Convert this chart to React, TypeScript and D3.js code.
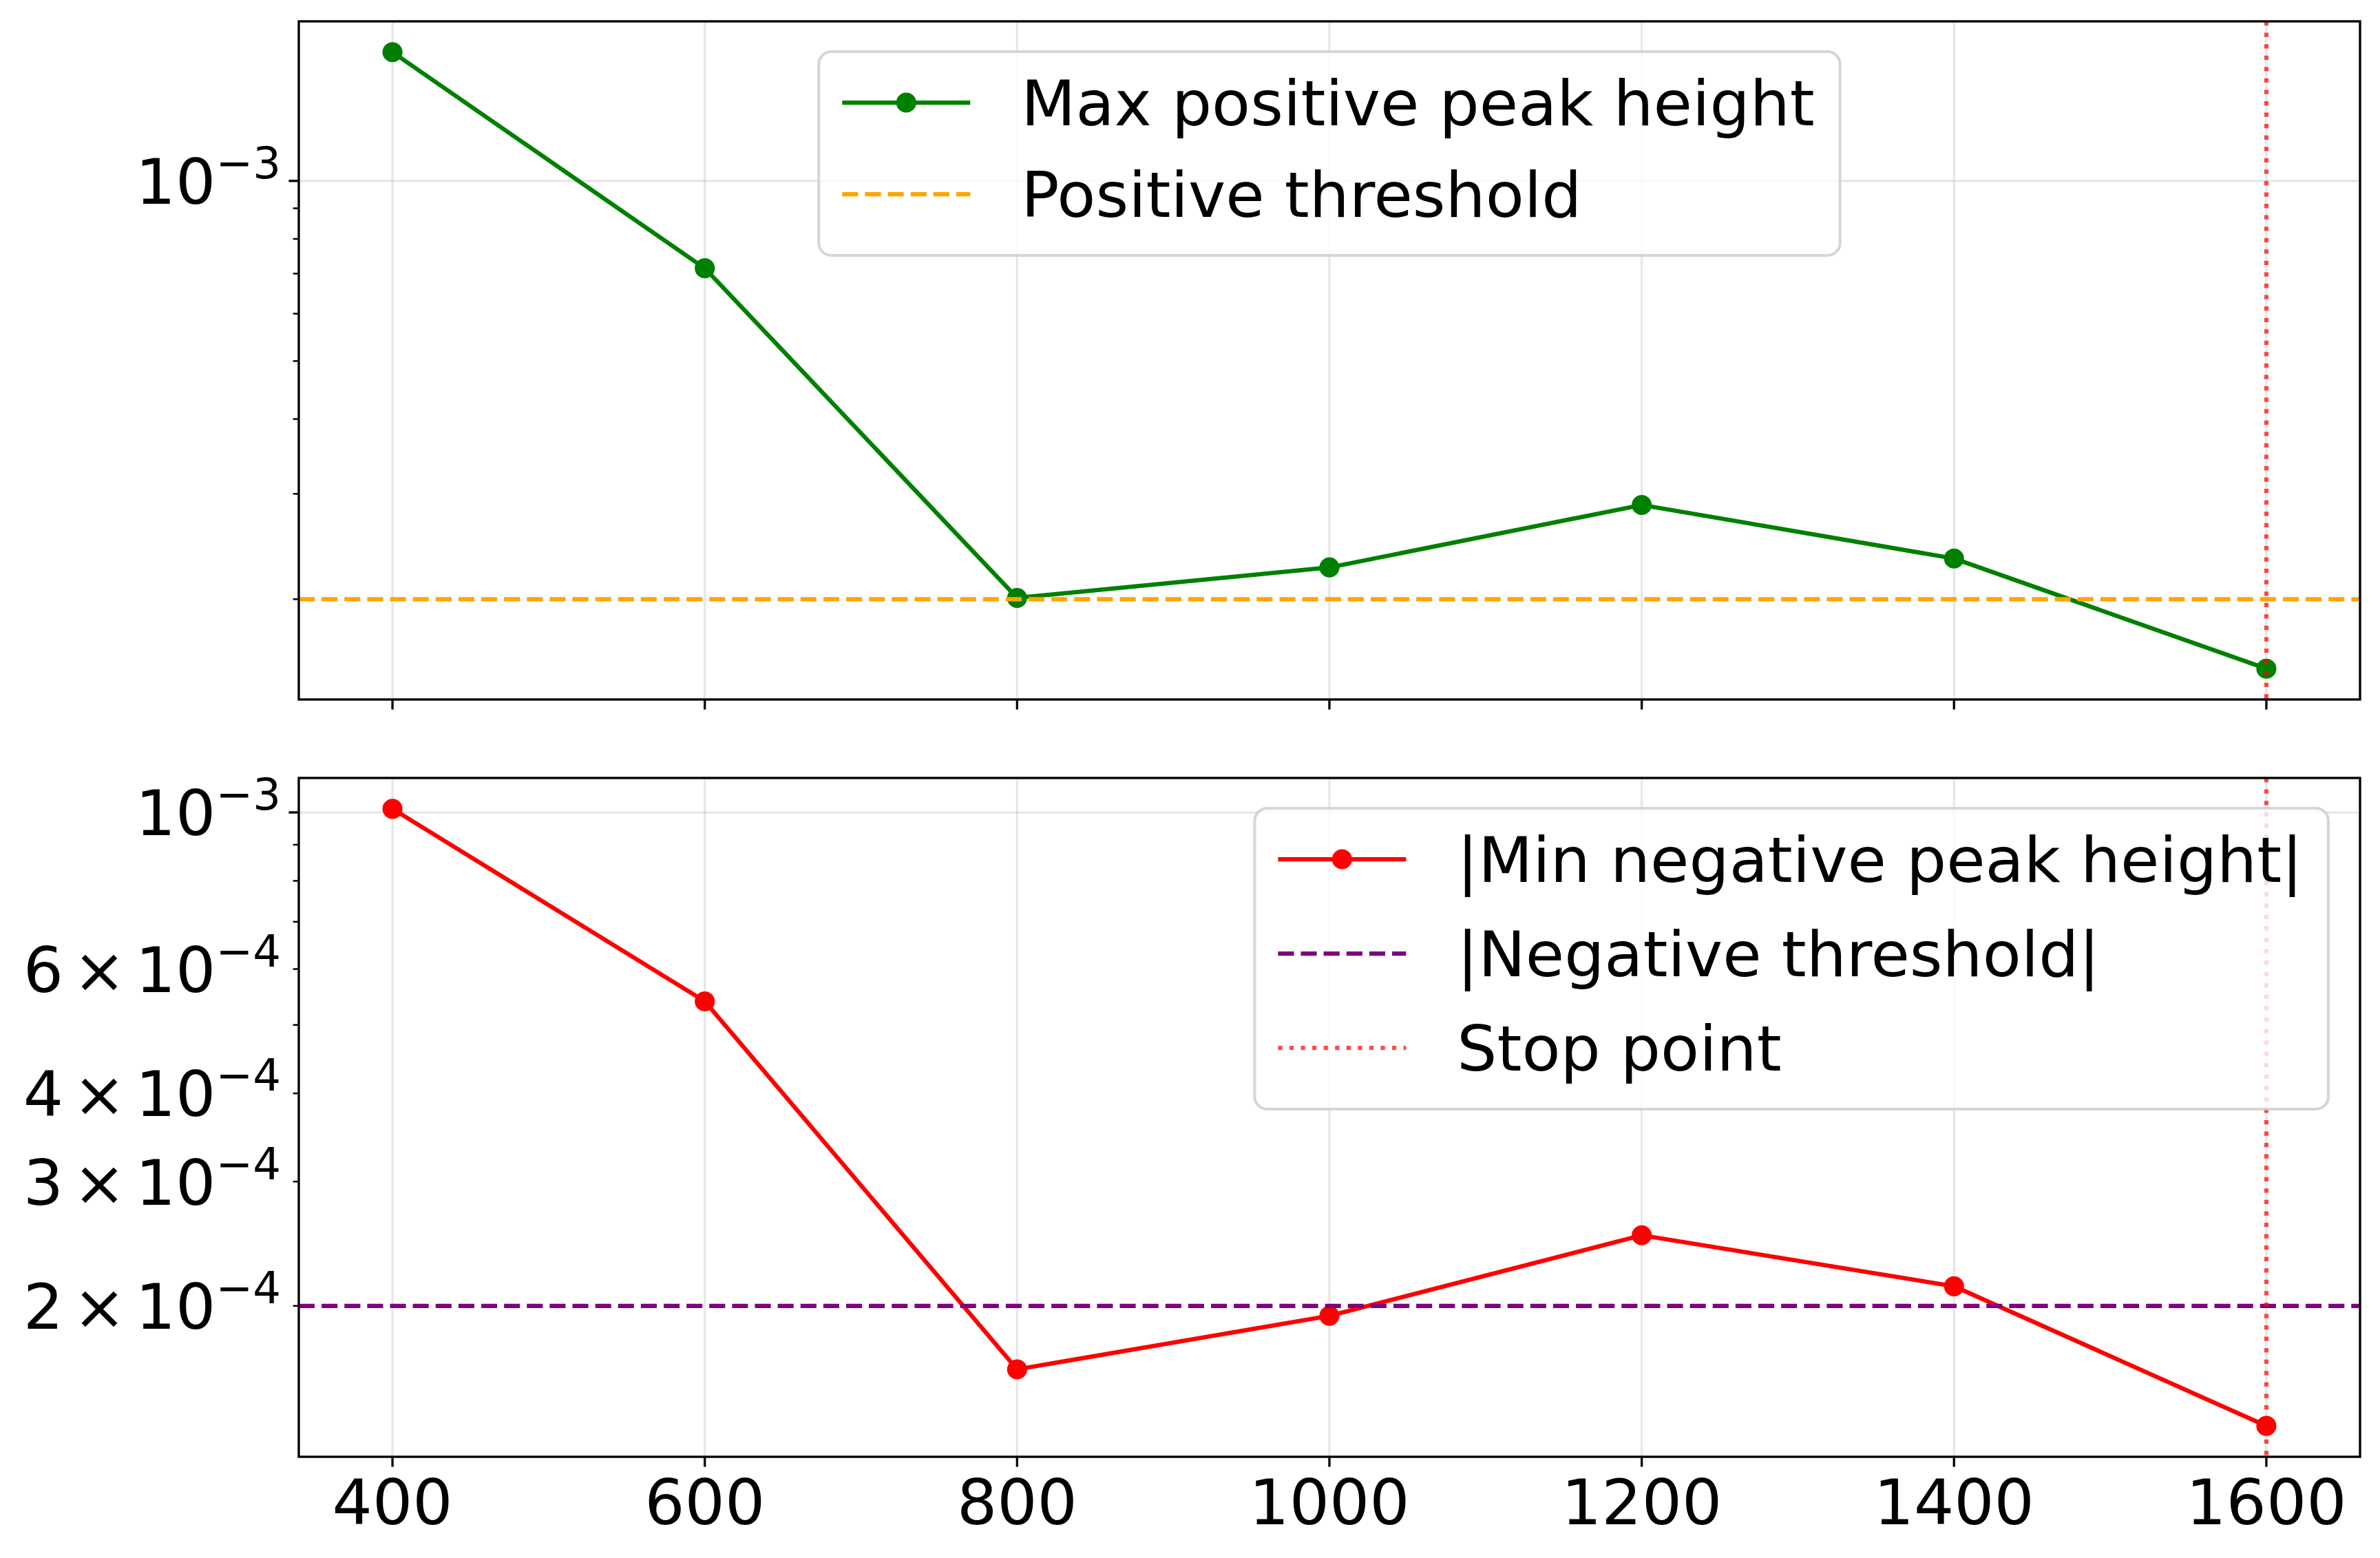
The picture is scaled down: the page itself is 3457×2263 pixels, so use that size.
import React, { useRef, useEffect } from "react";
import * as d3 from "d3";

// ── Data ──────────────────────────────────────────────────────────────────────

const windowSizes = [400, 600, 800, 1000, 1200, 1400, 1600];
const maxPositivePeak = [1.641e-3, 7.145e-4, 2.01e-4, 2.26e-4, 2.874e-4, 2.339e-4, 1.531e-4];
const minNegativePeakAbs = [1.0118e-3, 5.4e-4, 1.626e-4, 1.936e-4, 2.518e-4, 2.132e-4, 1.352e-4];
const positiveThreshold = 2e-4;
const negativeThresholdAbs = 2e-4;
const stopPoint = 1600;

const xTicks = [400, 600, 800, 1000, 1200, 1400, 1600];
const topYTickLabels = [1e-3];
const bottomYTickLabels = [2e-4, 3e-4, 4e-4, 6e-4, 1e-3];

// ── Layout (300 dpi figure) ───────────────────────────────────────────────────

const WIDTH = 3457;
const HEIGHT = 2263;
const PT = 300 / 72;
const FONT = 22 * PT;
const FONT_FAMILY = "'DejaVu Sans', sans-serif";
const LINE_W = 1.5 * PT;
const AX_LEFT = 434;
const AX_RIGHT = 3428;

type LegendEntry = {
  label: string;
  color: string;
  dash?: string;
  marker?: boolean;
  opacity?: number;
};

interface Panel {
  values: number[];
  threshold: number;
  color: string;
  thresholdColor: string;
  top: number;
  bottom: number;
  yLabels: number[];
  xLabels: boolean;
  legend: LegendEntry[];
  legendLoc: "upper center" | "upper right";
  rowGap: number;
}

const DASHED = `${3.7 * LINE_W},${1.6 * LINE_W}`;
const DOTTED = `${1 * LINE_W},${1.65 * LINE_W}`;

const PANELS: Panel[] = [
  {
    values: maxPositivePeak,
    threshold: positiveThreshold,
    color: "green",
    thresholdColor: "orange",
    top: 31,
    bottom: 1016,
    yLabels: topYTickLabels,
    xLabels: false,
    legend: [
      { label: "Max positive peak height", color: "green", marker: true },
      { label: "Positive threshold", color: "orange", dash: DASHED },
    ],
    legendLoc: "upper center",
    rowGap: 133,
  },
  {
    values: minNegativePeakAbs,
    threshold: negativeThresholdAbs,
    color: "red",
    thresholdColor: "purple",
    top: 1130,
    bottom: 2116,
    yLabels: bottomYTickLabels,
    xLabels: true,
    legend: [
      { label: "|Min negative peak height|", color: "red", marker: true },
      { label: "|Negative threshold|", color: "purple", dash: DASHED },
      { label: "Stop point", color: "red", dash: DOTTED, opacity: 0.7 },
    ],
    legendLoc: "upper right",
    rowGap: 137,
  },
];

// matplotlib-style autoscale: 5% margins, in log space for the y axis
function paddedLinear(values: number[]): [number, number] {
  const [lo, hi] = d3.extent(values) as [number, number];
  const m = (hi - lo) * 0.05;
  return [lo - m, hi + m];
}

function paddedLog(values: number[]): [number, number] {
  const [lo, hi] = d3.extent(values) as [number, number];
  const a = Math.log10(lo);
  const b = Math.log10(hi);
  const m = (b - a) * 0.05;
  return [10 ** (a - m), 10 ** (b + m)];
}

function isDecade(v: number) {
  const e = Math.log10(v);
  return Math.abs(e - Math.round(e)) < 1e-9;
}

// ── Chart ─────────────────────────────────────────────────────────────────────

export default function App() {
  const svgRef = useRef<SVGSVGElement>(null);

  useEffect(() => {
    if (!svgRef.current) return;
    const svg = d3.select(svgRef.current);
    svg.selectAll("*").remove();

    svg.append("rect").attr("width", WIDTH).attr("height", HEIGHT).attr("fill", "white");

    const x = d3.scaleLinear().domain(paddedLinear(windowSizes)).range([AX_LEFT, AX_RIGHT]);

    PANELS.forEach((p) => {
      const y = d3.scaleLog().domain(paddedLog(p.values)).range([p.bottom, p.top]);
      const g = svg.append("g");
      const yTicks = y.ticks().filter((t) => t >= y.domain()[0] && t <= y.domain()[1]);

      // Grid (major ticks only)
      const grid = g.append("g").attr("stroke", "#b0b0b0").attr("stroke-opacity", 0.3).attr("stroke-width", 0.8 * PT);
      xTicks.forEach((t) => {
        grid.append("line").attr("x1", x(t)).attr("x2", x(t)).attr("y1", p.top).attr("y2", p.bottom);
      });
      yTicks.filter(isDecade).forEach((t) => {
        grid.append("line").attr("x1", AX_LEFT).attr("x2", AX_RIGHT).attr("y1", y(t)).attr("y2", y(t));
      });

      // Series line + markers
      const line = d3
        .line<number>()
        .x((_, i) => x(windowSizes[i]))
        .y((d) => y(d));
      g.append("path")
        .datum(p.values)
        .attr("d", line)
        .attr("fill", "none")
        .attr("stroke", p.color)
        .attr("stroke-width", LINE_W)
        .attr("stroke-linejoin", "round")
        .attr("stroke-linecap", "square");
      g.selectAll("circle.pt")
        .data(p.values)
        .join("circle")
        .attr("cx", (_, i) => x(windowSizes[i]))
        .attr("cy", (d) => y(d))
        .attr("r", 3 * PT)
        .attr("fill", p.color)
        .attr("stroke", p.color)
        .attr("stroke-width", PT);

      // Threshold
      g.append("line")
        .attr("x1", AX_LEFT)
        .attr("x2", AX_RIGHT)
        .attr("y1", y(p.threshold))
        .attr("y2", y(p.threshold))
        .attr("stroke", p.thresholdColor)
        .attr("stroke-width", LINE_W)
        .attr("stroke-dasharray", DASHED);

      // Stop point
      g.append("line")
        .attr("x1", x(stopPoint))
        .attr("x2", x(stopPoint))
        .attr("y1", p.top)
        .attr("y2", p.bottom)
        .attr("stroke", "red")
        .attr("stroke-opacity", 0.7)
        .attr("stroke-width", LINE_W)
        .attr("stroke-dasharray", DOTTED);

      // Spines
      g.append("rect")
        .attr("x", AX_LEFT)
        .attr("y", p.top)
        .attr("width", AX_RIGHT - AX_LEFT)
        .attr("height", p.bottom - p.top)
        .attr("fill", "none")
        .attr("stroke", "black")
        .attr("stroke-width", 0.8 * PT);

      // X ticks
      xTicks.forEach((t) => {
        g.append("line")
          .attr("x1", x(t))
          .attr("x2", x(t))
          .attr("y1", p.bottom)
          .attr("y2", p.bottom + 3.5 * PT)
          .attr("stroke", "black")
          .attr("stroke-width", 0.8 * PT);
        if (p.xLabels) {
          g.append("text")
            .attr("x", x(t))
            .attr("y", p.bottom + 98)
            .attr("text-anchor", "middle")
            .attr("font-family", FONT_FAMILY)
            .attr("font-size", FONT)
            .attr("fill", "black")
            .text(String(t));
        }
      });

      // Y ticks (log: decades major, 2..9 minor)
      yTicks.forEach((t) => {
        const major = isDecade(t);
        g.append("line")
          .attr("x1", AX_LEFT)
          .attr("x2", AX_LEFT - (major ? 3.5 : 2) * PT)
          .attr("y1", y(t))
          .attr("y2", y(t))
          .attr("stroke", "black")
          .attr("stroke-width", (major ? 0.8 : 0.6) * PT);
      });

      p.yLabels.forEach((v) => {
        const e = Math.floor(Math.log10(v) + 1e-9);
        const m = Math.round(v / 10 ** e);
        const t = g
          .append("text")
          .attr("x", AX_LEFT - 26)
          .attr("y", y(v) + 0.364 * FONT)
          .attr("text-anchor", "end")
          .attr("font-family", FONT_FAMILY)
          .attr("font-size", FONT)
          .attr("fill", "black");
        if (m !== 1) {
          t.append("tspan").text(String(m));
          t.append("tspan").attr("dx", 14).text("\u00d7");
          t.append("tspan").attr("dx", 14).text("10");
        } else {
          t.append("tspan").text("10");
        }
        t.append("tspan")
          .attr("dy", -37)
          .attr("font-size", FONT * 0.7)
          .text(`\u2212${-e}`);
      });

      // Legend
      const lg = g.append("g");
      const texts = p.legend.map((entry, i) =>
        lg
          .append("text")
          .attr("font-family", FONT_FAMILY)
          .attr("font-size", FONT)
          .attr("fill", "black")
          .attr("data-row", i)
          .text(entry.label)
      );
      const textW = d3.max(texts, (t) => (t.node() as SVGTextElement).getComputedTextLength()) ?? 0;
      const padL = 34;
      const handleLen = 186;
      const handleGap = 74;
      const padR = 37;
      const boxW = padL + handleLen + handleGap + textW + padR;
      const boxH = 74 + p.rowGap * (p.legend.length - 1) + 89;
      const boxX = p.legendLoc === "upper center" ? (AX_LEFT + AX_RIGHT) / 2 - boxW / 2 : AX_RIGHT - 46 - boxW;
      const boxY = p.top + 44;

      lg.insert("rect", ":first-child")
        .attr("x", boxX)
        .attr("y", boxY)
        .attr("width", boxW)
        .attr("height", boxH)
        .attr("rx", 0.2 * FONT)
        .attr("fill", "white")
        .attr("fill-opacity", 0.8)
        .attr("stroke", "#cccccc")
        .attr("stroke-opacity", 0.8)
        .attr("stroke-width", PT);

      p.legend.forEach((entry, i) => {
        const cy = boxY + 74 + i * p.rowGap;
        const hx = boxX + padL;
        lg.append("line")
          .attr("x1", hx)
          .attr("x2", hx + handleLen)
          .attr("y1", cy)
          .attr("y2", cy)
          .attr("stroke", entry.color)
          .attr("stroke-opacity", entry.opacity ?? 1)
          .attr("stroke-width", LINE_W)
          .attr("stroke-dasharray", entry.dash ?? null);
        if (entry.marker) {
          lg.append("circle")
            .attr("cx", hx + handleLen / 2)
            .attr("cy", cy)
            .attr("r", 3 * PT)
            .attr("fill", entry.color)
            .attr("stroke", entry.color)
            .attr("stroke-width", PT);
        }
        texts[i].attr("x", hx + handleLen + handleGap).attr("y", cy + 33).raise();
      });
    });
  }, []);

  return (
    <svg
      ref={svgRef}
      width={WIDTH}
      height={HEIGHT}
      style={{ position: "absolute", left: 0, top: 0, display: "block" }}
    />
  );
}
